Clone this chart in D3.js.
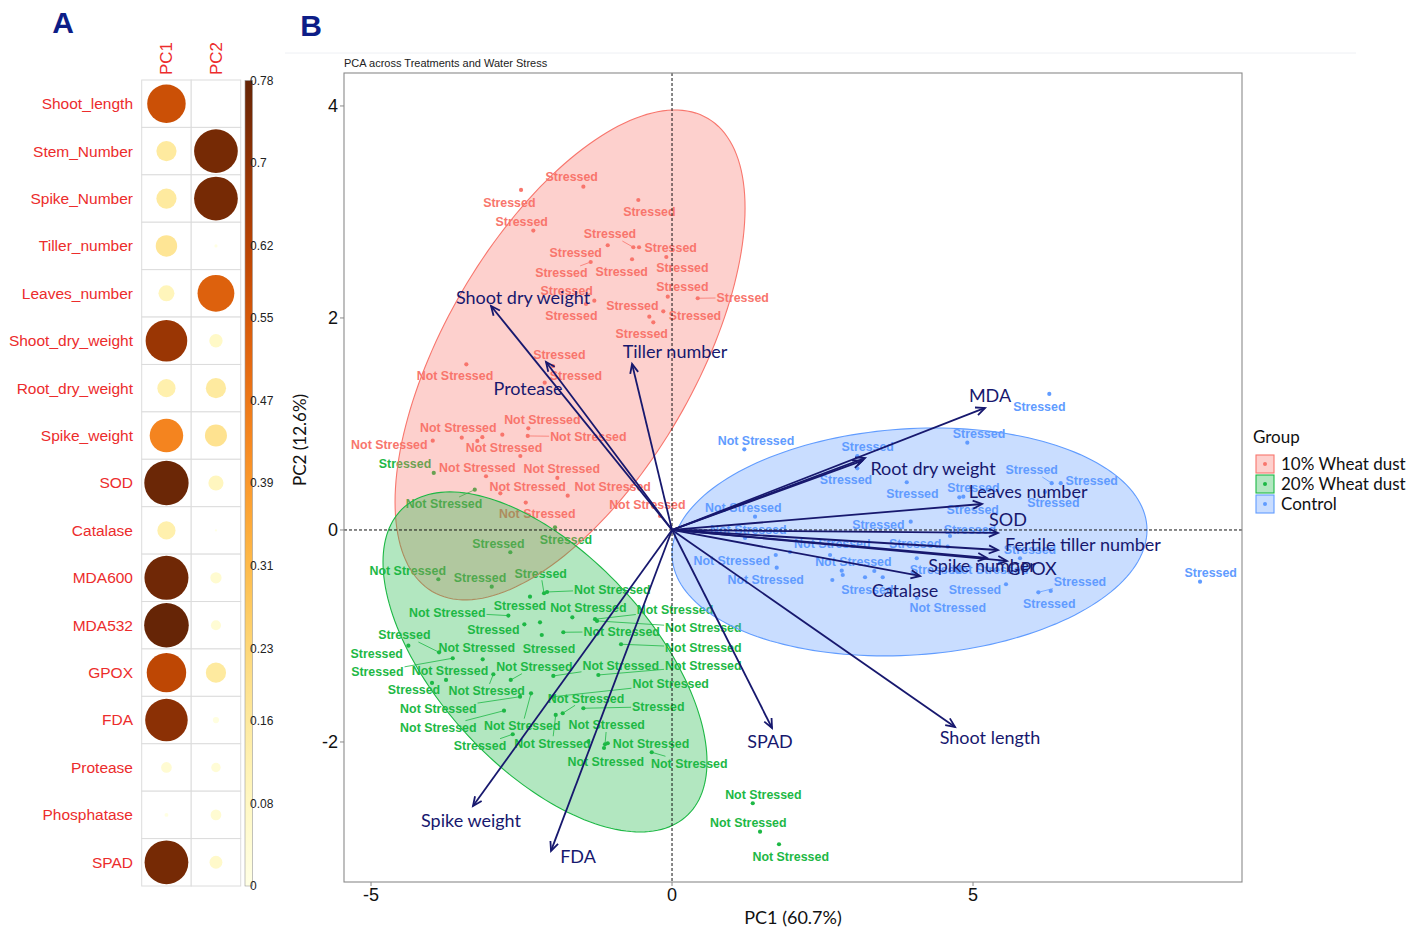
<!DOCTYPE html>
<html><head><meta charset="utf-8">
<script src="https://cdn.jsdelivr.net/npm/d3@7"></script>
<style>body{margin:0;background:#fff}</style>
</head><body>
<svg id="c" width="1416" height="936" xmlns="http://www.w3.org/2000/svg"></svg>
<script>
// ---------------- Panel A data ----------------
const corrVars = ["Shoot_length","Stem_Number","Spike_Number","Tiller_number","Leaves_number","Shoot_dry_weight","Root_dry_weight","Spike_weight","SOD","Catalase","MDA600","MDA532","GPOX","FDA","Protease","Phosphatase","SPAD"];
const corrCols = ["PC1","PC2"];
const pc1Contrib = [0.58,0.16,0.16,0.18,0.10,0.68,0.13,0.44,0.77,0.13,0.76,0.78,0.61,0.71,0.045,0.006,0.75];
const pc2Contrib = [0.0,0.75,0.75,0.004,0.53,0.07,0.16,0.19,0.09,0.002,0.05,0.04,0.16,0.015,0.035,0.045,0.065];
const colorbarTicks = [0,0.08,0.16,0.23,0.31,0.39,0.47,0.55,0.62,0.7,0.78];
const colorbarMax = 0.78;

// ---------------- Panel B data ----------------
const groups = ["10% Wheat dust","20% Wheat dust","Control"];
const groupColors = ["#F8766D","#1DB845","#619CFF"];
const stressNames = {S:"Stressed", N:"Not Stressed"};

const redX = [-1.473,-2.508,-0.560,-2.304,-0.643,-0.548,-1.068,-0.095,-1.351,-0.664,-1.291,-0.071,0.427,-0.377,-1.429,-0.145,-0.311,-1.977,-2.115,-3.417,-2.387,-3.493,-2.397,-3.975,-3.151,-2.819,-3.234,-2.520,-3.090,-1.905,-2.852,-1.733,-2.430,-0.199];
const redY = [3.239,3.208,3.113,2.824,2.667,2.667,2.686,2.575,2.528,2.554,2.163,2.201,2.186,2.012,2.132,2.063,1.959,1.547,1.390,1.563,0.959,0.871,0.887,0.842,0.875,0.899,0.840,0.698,0.507,0.491,0.346,0.324,0.258,0.132];
const redStress = ["S","S","S","S","S","S","S","S","S","S","S","S","S","S","S","S","S","S","S","N","N","N","N","N","","","","N","N","N","N","N","N","N"];
const redLX = [-1.666,-2.703,-0.377,-2.497,-1.030,-0.022,-1.600,0.171,-1.839,-0.836,-1.749,0.171,1.174,-0.659,-1.673,0.382,-0.503,-1.872,-1.595,-3.605,-2.154,-3.550,-1.390,-4.696,null,null,null,-2.791,-3.234,-1.832,-2.397,-0.985,-2.238,-0.410];
const redLY = [3.333,3.092,3.003,2.908,2.792,2.667,2.620,2.472,2.425,2.441,2.255,2.292,2.192,2.120,2.019,2.025,1.852,1.654,1.456,1.456,1.044,0.965,0.880,0.802,null,null,null,0.780,0.592,0.575,0.406,0.406,0.151,0.236];

const greenX = [-3.958,-3.277,-2.686,-1.944,-3.882,-2.995,-2.126,-2.076,-2.359,-2.719,-2.453,-2.193,-1.656,-1.279,-1.246,-1.806,-2.164,-0.847,-3.870,-4.380,-3.643,-3.145,-3.754,-3.987,-2.968,-2.679,-1.972,-1.224,-2.342,-1.972,-2.525,-1.816,-1.932,-1.473,-2.791,-2.646,-1.390,-1.113,-1.068,-1.130,-0.337,1.341,1.462,1.777];
const greenY = [0.538,0.380,-0.210,0.025,-0.465,-0.535,-0.597,-0.585,-0.629,-0.808,-0.890,-0.871,-0.824,-0.842,-0.858,-0.965,-0.991,-1.078,-1.154,-1.092,-1.210,-1.220,-1.415,-1.443,-1.361,-1.415,-1.377,-1.368,-1.541,-1.573,-1.573,-1.729,-1.745,-1.682,-1.705,-1.927,-1.997,-2.022,-2.012,-2.057,-2.097,-2.578,-2.846,-2.965];
const greenStress = ["S","N","S","S","N","S","S","N","S","N","S","","N","N","N","N","S","N","S","S","S","N","N","S","N","N","N","N","N","N","N","N","N","S","N","S","","N","N","N","N","N","N","N"];
const greenLX = [-4.435,-3.787,-2.885,-1.761,-4.390,-3.189,-2.181,-0.992,-2.525,-3.733,-2.968,null,-1.390,0.050,0.520,-0.836,-2.043,0.520,-4.447,-4.905,-4.895,-3.244,-3.688,-4.286,-3.078,-2.287,-0.852,0.520,-2.487,-0.022,-3.882,-1.429,-1.988,-0.228,-3.882,-3.189,null,-1.085,-0.349,-1.101,0.287,1.517,1.267,1.972];
const greenLY = [0.623,0.245,-0.125,-0.094,-0.384,-0.446,-0.408,-0.559,-0.717,-0.776,-0.937,null,-0.733,-0.755,-0.922,-0.959,-1.116,-1.110,-0.991,-1.163,-1.337,-1.110,-1.324,-1.509,-1.519,-1.290,-1.283,-1.283,-1.846,-1.453,-1.689,-1.588,-2.012,-1.667,-1.865,-2.035,null,-1.840,-2.012,-2.186,-2.201,-2.493,-2.758,-3.082];

const blueX = [6.267,1.201,4.905,3.078,3.078,6.307,6.457,3.899,4.772,6.196,4.839,1.379,3.965,4.618,1.213,1.960,4.580,5.781,1.723,2.625,4.065,5.449,1.739,3.206,5.548,6.085,6.291,4.070,2.819,2.836,2.663,3.360,3.500,8.771];
const blueY = [1.283,0.761,0.824,0.698,0.582,0.441,0.441,0.450,0.308,0.358,0.314,0.125,0.078,-0.057,-0.075,-0.208,-0.158,-0.267,-0.236,-0.236,-0.267,-0.311,-0.356,-0.446,-0.512,-0.588,-0.575,-0.642,-0.384,-0.425,-0.472,-0.387,-0.446,-0.488];
const blueStress = ["S","N","S","S","S","S","S","S","S","S","S","N","S","S","N","N","S","S","N","N","S","N","N","S","S","S","S","N","","","","","","S"];
const blueLX = [6.101,1.395,5.100,3.251,2.890,5.975,6.972,3.992,5.005,6.334,4.995,1.184,3.427,4.950,1.267,2.663,4.037,5.947,0.992,3.012,4.385,5.282,1.556,3.244,5.033,6.777,6.267,4.580,null,null,null,null,null,8.949];
const blueLY = [1.163,0.842,0.906,0.786,0.472,0.566,0.462,0.342,0.399,0.258,0.195,0.210,0.047,0.0,0.007,-0.132,-0.132,-0.182,-0.292,-0.302,-0.377,-0.377,-0.465,-0.559,-0.559,-0.488,-0.698,-0.729,null,null,null,null,null,-0.399];

// confidence ellipses: centre, spread and correlation (data units)
const ellCX = [-1.694,-2.110,3.945];
const ellCY = [1.651,-1.245,-0.113];
const ellSX = [2.907,2.691,3.945];
const ellSY = [2.311,1.604,1.075];
const ellRho = [0.600,-0.587,0.105];

// variable loadings (arrows)
const varNames = ["Shoot dry weight","Protease","Tiller number","MDA","Root dry weight","Phosphatase","Leaves number","SOD","Fertile tiller number","Spike number","GPOX","Catalase","Shoot length","SPAD","FDA","Spike weight"];
const varX = [-3.007,-2.093,-0.664,5.199,3.206,3.156,5.150,5.415,5.415,5.233,5.565,4.120,4.701,1.661,-2.010,-3.306];
const varY = [2.113,1.585,1.566,1.151,0.679,0.651,0.245,-0.028,-0.189,-0.264,-0.292,-0.434,-1.858,-1.868,-3.028,-2.604];
const varLabelX = [-2.475,-2.392,0.050,5.282,4.336,null,5.914,5.581,6.827,5.150,5.980,3.870,5.282,1.628,-1.561,-3.339];
const varLabelY = [2.189,1.330,1.679,1.264,0.575,null,0.358,0.094,-0.142,-0.340,-0.368,-0.575,-1.962,-2.000,-3.085,-2.745];

const xTicks = [-5,0,5];
const yTicks = [-2,0,2,4];
const xDomain = [-5.449, 9.468];
const yDomain = [-3.321, 4.311];

// ---------------- drawing ----------------
const svg = d3.select("#c");
const ARIAL = "'Liberation Sans', Arial, sans-serif";
const CAL = "Lato, 'Open Sans', sans-serif";

// Panel letters
svg.append("text").attr("x",63).attr("y",33).attr("text-anchor","middle")
  .style("font",`bold 30px ${ARIAL}`).attr("fill","#0d1d87").text("A");
svg.append("text").attr("x",311).attr("y",36).attr("text-anchor","middle")
  .style("font",`bold 30px ${ARIAL}`).attr("fill","#0d1d87").text("B");

// ----- Panel A -----
const gA = svg.append("g");
const rowBand = d3.scaleBand().domain(corrVars).range([80,886]);
const colBand = d3.scaleBand().domain(corrCols).range([141.7,240.7]);
const cScale = d3.scaleSequential(d3.interpolateYlOrBr).domain([0,colorbarMax]);
const rScale = d3.scaleSqrt().domain([0,colorbarMax]).range([0,22.3]);
const cellData = [];
corrVars.forEach((v,i)=>{ cellData.push({v, c:"PC1", val:pc1Contrib[i]}); cellData.push({v, c:"PC2", val:pc2Contrib[i]}); });
gA.selectAll("rect.cell").data(cellData).join("rect").attr("class","cell")
  .attr("x",d=>colBand(d.c)).attr("y",d=>rowBand(d.v))
  .attr("width",colBand.bandwidth()).attr("height",rowBand.bandwidth())
  .attr("fill","#fff").attr("stroke","#dcdcdc").attr("stroke-width",1);
gA.selectAll("circle.cc").data(cellData).join("circle").attr("class","cc")
  .attr("cx",d=>colBand(d.c)+colBand.bandwidth()/2).attr("cy",d=>rowBand(d.v)+rowBand.bandwidth()/2)
  .attr("r",d=>rScale(d.val)).attr("fill",d=>cScale(d.val));
gA.selectAll("text.rl").data(corrVars).join("text").attr("class","rl")
  .attr("x",133).attr("y",d=>rowBand(d)+rowBand.bandwidth()/2).attr("dy","0.35em")
  .attr("text-anchor","end").style("font",`15.5px ${ARIAL}`).attr("fill","#ec2c2c").text(d=>d);
gA.selectAll("text.cl").data(corrCols).join("text").attr("class","cl")
  .attr("transform",d=>`translate(${colBand(d)+colBand.bandwidth()/2+6},75) rotate(-90)`)
  .attr("text-anchor","start").style("font",`17px ${ARIAL}`).attr("fill","#ec2c2c").text(d=>d);
// colour bar
const defs = svg.append("defs");
const grad = defs.append("linearGradient").attr("id","cbar").attr("x1","0").attr("y1","1").attr("x2","0").attr("y2","0");
d3.range(0,1.0001,0.05).forEach(t=>grad.append("stop").attr("offset",t).attr("stop-color",cScale(t*colorbarMax)));
const yBar = d3.scaleLinear().domain([0,colorbarMax]).range([886,80.5]);
gA.append("rect").attr("x",245).attr("y",yBar(colorbarMax)).attr("width",7.5).attr("height",yBar(0)-yBar(colorbarMax))
  .attr("fill","url(#cbar)").attr("stroke","#999").attr("stroke-width",0.6);
gA.selectAll("text.cb").data(colorbarTicks).join("text").attr("class","cb")
  .attr("x",250).attr("y",d=>yBar(d)).attr("dy","0.35em")
  .style("font",`12px ${ARIAL}`).attr("fill","#222").text(d=>d===0?"0":String(d));

// ----- Panel B -----
svg.append("line").attr("x1",285).attr("x2",1356).attr("y1",53).attr("y2",53).attr("stroke","#eef0f4").attr("stroke-width",1);
svg.append("text").attr("x",344).attr("y",67).style("font",`11px ${ARIAL}`).attr("fill","#222")
  .text("PCA across Treatments and Water Stress");

const x = d3.scaleLinear().domain(xDomain).range([344,1242]);
const y = d3.scaleLinear().domain(yDomain).range([882,73]);

defs.append("clipPath").attr("id","plotclip").append("rect")
  .attr("x",344).attr("y",73).attr("width",898).attr("height",809);

const gB = svg.append("g").attr("clip-path","url(#plotclip)");
const gPts = gB.append("g");

function drawGroup(X,Y,codes,LX,LY,color){
  const g = gPts.append("g");
  const segG = g.append("g"), dotG = g.append("g"), txtG = g.append("g");
  X.forEach((xv,i)=>{
    const px = x(xv), py = y(Y[i]);
    dotG.append("circle").attr("cx",px).attr("cy",py).attr("r",2.1).attr("fill",color);
    if(!codes[i] || LX[i]===null) return;
    const lx = x(LX[i]), ly = y(LY[i]);
    const t = txtG.append("text").attr("x",lx).attr("y",ly).attr("dy","0.36em")
      .attr("text-anchor","middle").style("font",`bold 12.4px ${ARIAL}`).attr("fill",color)
      .text(stressNames[codes[i]]);
    const w = t.node().getComputedTextLength()/2 + 1, h = 7;
    const dx = px-lx, dy = py-ly;
    if(Math.abs(dx)<=w && Math.abs(dy)<=h) return;
    const k = Math.min(dx!==0? w/Math.abs(dx):Infinity, dy!==0? h/Math.abs(dy):Infinity);
    const ex = lx+dx*k, ey = ly+dy*k;
    if(Math.hypot(px-ex,py-ey) > 9){
      segG.append("line").attr("x1",px).attr("y1",py).attr("x2",ex).attr("y2",ey)
        .attr("stroke",color).attr("stroke-width",0.8);
    }
  });
}
drawGroup(redX,redY,redStress,redLX,redLY,groupColors[0]);
drawGroup(greenX,greenY,greenStress,greenLX,greenLY,groupColors[1]);
drawGroup(blueX,blueY,blueStress,blueLX,blueLY,groupColors[2]);

// ellipses
const line = d3.line().x(d=>x(d[0])).y(d=>y(d[1])).curve(d3.curveLinearClosed);
groups.forEach((gname,gi)=>{
  const pts = d3.range(0,2*Math.PI,Math.PI/90).map(t=>[
    ellCX[gi] + ellSX[gi]*Math.cos(t),
    ellCY[gi] + ellSY[gi]*(ellRho[gi]*Math.cos(t) + Math.sqrt(1-ellRho[gi]*ellRho[gi])*Math.sin(t))
  ]);
  gB.append("path").attr("d",line(pts)).attr("fill",groupColors[gi]).attr("fill-opacity",0.34)
    .attr("stroke",groupColors[gi]).attr("stroke-width",1.1);
});

// zero lines
gB.append("line").attr("x1",x(0)).attr("x2",x(0)).attr("y1",73).attr("y2",882)
  .attr("stroke","#111").attr("stroke-width",1).attr("stroke-dasharray","3,2");
gB.append("line").attr("x1",344).attr("x2",1242).attr("y1",y(0)).attr("y2",y(0))
  .attr("stroke","#111").attr("stroke-width",1).attr("stroke-dasharray","3,2");

// arrows
const NAVY = "#17186e";
const gArr = gB.append("g");
varNames.forEach((nm,i)=>{
  const ox=x(0), oy=y(0), tx=x(varX[i]), ty=y(varY[i]);
  gArr.append("line").attr("x1",ox).attr("y1",oy).attr("x2",tx).attr("y2",ty)
    .attr("stroke",NAVY).attr("stroke-width",1.8);
  const a = Math.atan2(ty-oy,tx-ox), L=10, sp=0.42;
  gArr.append("path")
    .attr("d",`M${tx-L*Math.cos(a-sp)},${ty-L*Math.sin(a-sp)}L${tx},${ty}L${tx-L*Math.cos(a+sp)},${ty-L*Math.sin(a+sp)}`)
    .attr("fill","none").attr("stroke",NAVY).attr("stroke-width",1.8);
  if(varLabelX[i]!==null){
    gArr.append("text").attr("x",x(varLabelX[i])).attr("y",y(varLabelY[i])).attr("dy","0.35em")
      .attr("text-anchor","middle").style("font",`18px ${CAL}`).attr("fill",NAVY).text(nm);
  }
});

// panel border
svg.append("rect").attr("x",344).attr("y",73).attr("width",898).attr("height",809)
  .attr("fill","none").attr("stroke","#8a8a8a").attr("stroke-width",1.1);

// axes ticks
const gAx = svg.append("g");
yTicks.forEach(t=>{
  gAx.append("line").attr("x1",340).attr("x2",344).attr("y1",y(t)).attr("y2",y(t)).attr("stroke","#8a8a8a");
  gAx.append("text").attr("x",338).attr("y",y(t)).attr("dy","0.35em").attr("text-anchor","end")
    .style("font",`18px ${ARIAL}`).attr("fill","#111").text(t<0?"-"+Math.abs(t):t);
});
xTicks.forEach(t=>{
  gAx.append("line").attr("x1",x(t)).attr("x2",x(t)).attr("y1",882).attr("y2",886).attr("stroke","#8a8a8a");
  gAx.append("text").attr("x",x(t)).attr("y",895).attr("dy","0.35em").attr("text-anchor","middle")
    .style("font",`18px ${ARIAL}`).attr("fill","#111").text(t<0?"-"+Math.abs(t):t);
});
svg.append("text").attr("x",793).attr("y",918).attr("dy","0.35em").attr("text-anchor","middle")
  .style("font",`18px ${CAL}`).attr("fill","#111").text("PC1 (60.7%)");
svg.append("text").attr("transform","translate(300,440) rotate(-90)").attr("dy","0.35em").attr("text-anchor","middle")
  .style("font",`17px ${CAL}`).attr("fill","#111").text("PC2 (12.6%)");

// legend
const gL = svg.append("g");
gL.append("text").attr("x",1253).attr("y",437).attr("dy","0.35em").style("font",`17px ${CAL}`).attr("fill","#111").text("Group");
groups.forEach((gname,gi)=>{
  const ky = 455 + gi*20;
  gL.append("rect").attr("x",1256).attr("y",ky).attr("width",18).attr("height",18)
    .attr("fill",groupColors[gi]).attr("fill-opacity",0.34).attr("stroke",groupColors[gi]).attr("stroke-width",1.1);
  gL.append("circle").attr("cx",1265).attr("cy",ky+9).attr("r",2).attr("fill",groupColors[gi]);
  gL.append("text").attr("x",1281).attr("y",ky+9).attr("dy","0.35em").style("font",`17px ${CAL}`).attr("fill","#111").text(gname);
});
</script>
</body></html>
